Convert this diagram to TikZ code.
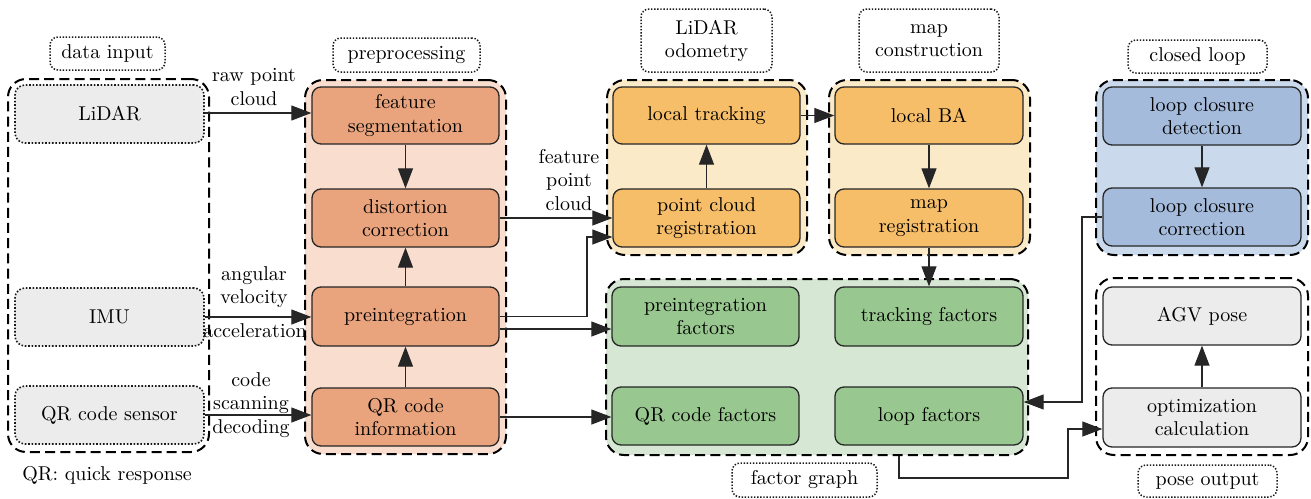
\documentclass[tikz,border=0pt]{standalone}
\usetikzlibrary{arrows.meta}
\definecolor{orbox}{RGB}{233,164,125}
\definecolor{orbg}{RGB}{249,221,206}
\definecolor{yebox}{RGB}{246,190,105}
\definecolor{yebg}{RGB}{251,234,200}
\definecolor{grbox}{RGB}{152,199,143}
\definecolor{grbg}{RGB}{214,232,211}
\definecolor{blbox}{RGB}{165,187,219}
\definecolor{blbg}{RGB}{203,217,236}
\definecolor{gybox}{RGB}{236,236,236}
\newcommand\rbox[7]{\node[#2, minimum width={(#5-#3)*0.5pt}, minimum height={(#6-#4)*0.5pt}] (#1) at ({(#3+#5)/2},{(#4+#6)/2}) {#7};}
\begin{document}
\begin{tikzpicture}[x=0.5pt,y=-0.5pt,
  font=\fontsize{10}{11.6}\selectfont,
  box/.style={draw=black!85, line width=0.65pt, rounded corners=4.5pt, align=center, inner sep=1pt},
  srcbox/.style={draw=black!90, line width=0.8pt, dash pattern=on 0.8pt off 0.9pt, rounded corners=5pt, align=center, inner sep=1pt, fill=gybox},
  grp/.style={draw=black, line width=1pt, dash pattern=on 5pt off 2.6pt, rounded corners=9pt, inner sep=0pt},
  lbl/.style={draw=black!90, line width=0.75pt, dash pattern=on 0.7pt off 0.85pt, rounded corners=4pt, align=center, inner sep=1pt},
  arr/.style={-{Triangle[length=10pt,width=7.5pt]}, line width=0.55pt, draw=black!85},
  txt/.style={align=center, inner sep=0pt}
]
\useasboundingbox (0,0) rectangle (1311,498);

% groups
\rbox{din}{grp}{8}{79}{209}{452}{}
\rbox{pre}{grp, fill=orbg}{305}{80}{506}{454}{}
\rbox{lo}{grp, fill=yebg}{607}{80}{807}{255}{}
\rbox{mc}{grp, fill=yebg}{829}{80}{1030}{255}{}
\rbox{fg}{grp, fill=grbg}{606}{279}{1028}{455}{}
\rbox{cl}{grp, fill=blbg}{1096}{80}{1308}{255}{}
\rbox{po}{grp}{1096}{278}{1308}{455}{}

% group labels
\rbox{dinl}{lbl}{50}{37}{165}{70}{data input}
\rbox{prel}{lbl}{333}{38}{480}{72}{preprocessing}
\rbox{lol}{lbl}{641}{9}{772}{72}{LiDAR\\odometry}
\rbox{mcl}{lbl}{859}{9}{999}{72}{map\\construction}
\rbox{fgl}{lbl}{732}{463}{877}{497}{factor graph}
\rbox{cll}{lbl}{1128}{40}{1267}{73}{closed loop}
\rbox{pol}{lbl}{1138}{465}{1277}{497}{pose output}

% data input
\rbox{lidar}{srcbox}{15}{85}{204}{143}{LiDAR}
\rbox{imu}{srcbox}{15}{288}{204}{346}{IMU}
\rbox{qrs}{srcbox}{15}{386}{204}{444}{QR code sensor}

% preprocessing
\rbox{fs}{box, fill=orbox}{312}{87}{499}{144}{feature\\segmentation}
\rbox{dc}{box, fill=orbox}{312}{189}{499}{247}{distortion\\correction}
\rbox{pi}{box, fill=orbox}{312}{287}{499}{346}{preintegration}
\rbox{qi}{box, fill=orbox}{312}{388}{499}{446}{QR code\\information}

% lidar odometry
\rbox{lt}{box, fill=yebox}{613}{87}{800}{144}{local tracking}
\rbox{pcr}{box, fill=yebox}{613}{189}{800}{247}{point cloud\\registration}

% map construction
\rbox{lba}{box, fill=yebox}{835}{87}{1023}{144}{local BA}
\rbox{mr}{box, fill=yebox}{835}{189}{1023}{247}{map\\registration}

% factor graph
\rbox{pif}{box, fill=grbox}{612}{287}{799}{346}{preintegration\\factors}
\rbox{tf}{box, fill=grbox}{835}{287}{1023}{346}{tracking factors}
\rbox{qf}{box, fill=grbox}{612}{387}{799}{445}{QR code factors}
\rbox{lf}{box, fill=grbox}{835}{387}{1023}{445}{loop factors}

% closed loop
\rbox{lcd}{box, fill=blbox}{1103}{87}{1301}{145}{loop closure\\detection}
\rbox{lcc}{box, fill=blbox}{1103}{188}{1301}{246}{loop closure\\correction}

% pose output
\rbox{agv}{box, fill=gybox}{1103}{287}{1301}{345}{AGV pose}
\rbox{oc}{box, fill=gybox}{1103}{388}{1301}{447}{optimization\\calculation}

% connector labels
\node[txt] (t1) at (254,87) {raw point\\cloud};
\node[txt] (t2) at (254,287) {angular\\velocity};
\node[txt] (t3) at (255,331) {acceleration};
\node[txt] (t4) at (251,405) {code\\scanning\\decoding};
\node[txt] (t5) at (569,180) {feature\\point\\cloud};
\node[txt, anchor=west] (t6) at (22,475) {QR: quick response};

% connectors
\draw[arr] ([yshift=0.5pt]lidar.east) -- ([yshift=0.5pt]lidar.east -| fs.west);
\draw[arr] (imu.east) -- (imu.east -| pi.west);
\draw[arr] (qrs.east) -- (qrs.east -| qi.west);
\draw[arr] (fs.south) -- (dc.north);
\draw[arr] (pi.north) -- (dc.south);
\draw[arr] (qi.north) -- (pi.south);
\draw[arr] (dc.east) -- (dc.east -| pcr.west);
\coordinate (k1) at (587,237);
\draw[arr] (pi.east) -| (k1) -- (k1 -| pcr.west);
\draw[arr] ([yshift=-6.25pt]pi.east) -- ([yshift=-6.25pt]pif.west);
\draw[arr] (qi.east) -- (qi.east -| qf.west);
\draw[arr] (pcr.north) -- (lt.south);
\draw[arr] (lt.east) -- (lt.east -| lba.west);
\draw[arr] (lba.south) -- (mr.north);
\draw[arr] (mr.south) -- (tf.north);
\draw[arr] (lcd.south) -- (lcc.north);
\draw[arr] (oc.north) -- (agv.south);
\coordinate (k2) at (1082,402);
\draw[arr] (lcc.west) -| (k2) -- ([yshift=7pt]lf.east);
\coordinate (k3) at (1068,478);
\draw[arr] ([xshift=41pt]fg.south) |- (k3) |- ([yshift=-5.75pt]oc.west);
\end{tikzpicture}
\end{document}
